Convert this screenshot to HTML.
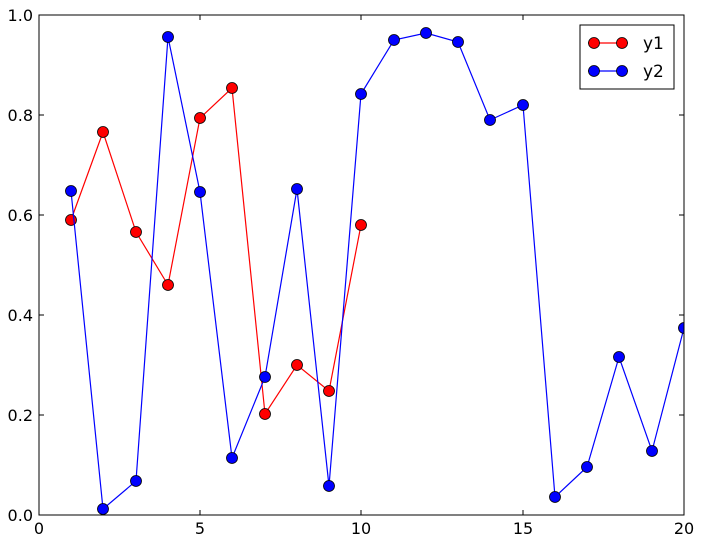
<!DOCTYPE html>
<html><head><meta charset="utf-8"><style>body{margin:0;background:#fff}</style></head>
<body>
<svg width="704" height="544" xmlns="http://www.w3.org/2000/svg" font-family="DejaVu Sans, Liberation Sans, sans-serif">
<rect width="704" height="544" fill="#fff"/>
<defs><clipPath id="c"><rect x="39" y="15" width="645" height="500"/></clipPath></defs>
<g clip-path="url(#c)">
<polyline fill="none" stroke="#f00" stroke-width="1.2" points="71,220 103,132 136,232 168,285 200,118 232,88 265,414 297,365 329,391 361,225"/>
<g fill="#f00" stroke="#000" stroke-width="0.8">
<circle cx="71" cy="220" r="5.5"/><circle cx="103" cy="132" r="5.5"/><circle cx="136" cy="232" r="5.5"/><circle cx="168" cy="285" r="5.5"/><circle cx="200" cy="118" r="5.5"/><circle cx="232" cy="88" r="5.5"/><circle cx="265" cy="414" r="5.5"/><circle cx="297" cy="365" r="5.5"/><circle cx="329" cy="391" r="5.5"/><circle cx="361" cy="225" r="5.5"/>
</g>
<polyline fill="none" stroke="#00f" stroke-width="1.2" points="71,191 103,509 136,481 168,37 200,192 232,458 265,377 297,189 329,486 361,94 394,40 426,33 458,42 490,120 523,105 555,497 587,467 619,357 652,451 684,328"/>
<g fill="#00f" stroke="#000" stroke-width="0.8">
<circle cx="71" cy="191" r="5.5"/><circle cx="103" cy="509" r="5.5"/><circle cx="136" cy="481" r="5.5"/><circle cx="168" cy="37" r="5.5"/><circle cx="200" cy="192" r="5.5"/><circle cx="232" cy="458" r="5.5"/><circle cx="265" cy="377" r="5.5"/><circle cx="297" cy="189" r="5.5"/><circle cx="329" cy="486" r="5.5"/><circle cx="361" cy="94" r="5.5"/><circle cx="394" cy="40" r="5.5"/><circle cx="426" cy="33" r="5.5"/><circle cx="458" cy="42" r="5.5"/><circle cx="490" cy="120" r="5.5"/><circle cx="523" cy="105" r="5.5"/><circle cx="555" cy="497" r="5.5"/><circle cx="587" cy="467" r="5.5"/><circle cx="619" cy="357" r="5.5"/><circle cx="652" cy="451" r="5.5"/><circle cx="684" cy="328" r="5.5"/>
</g>
</g>
<rect x="39" y="15" width="645" height="500" fill="none" stroke="#000" stroke-width="1"/>
<g stroke="#000" stroke-width="1">
<line x1="200" y1="515" x2="200" y2="510"/><line x1="361" y1="515" x2="361" y2="510"/><line x1="523" y1="515" x2="523" y2="510"/>
<line x1="200" y1="15" x2="200" y2="20"/><line x1="361" y1="15" x2="361" y2="20"/><line x1="523" y1="15" x2="523" y2="20"/>
<line x1="39" y1="415" x2="44" y2="415"/><line x1="39" y1="315" x2="44" y2="315"/><line x1="39" y1="215" x2="44" y2="215"/><line x1="39" y1="115" x2="44" y2="115"/>
<line x1="684" y1="415" x2="679" y2="415"/><line x1="684" y1="315" x2="679" y2="315"/><line x1="684" y1="215" x2="679" y2="215"/><line x1="684" y1="115" x2="679" y2="115"/>
</g>
<g font-size="16" text-anchor="middle" fill="#000">
<text x="39" y="534">0</text><text x="200" y="534">5</text><text x="361" y="534">10</text><text x="523" y="534">15</text><text x="684" y="534">20</text>
</g>
<g font-size="16" text-anchor="end" fill="#000">
<text x="33" y="521">0.0</text><text x="33" y="421">0.2</text><text x="33" y="321">0.4</text><text x="33" y="221">0.6</text><text x="33" y="121">0.8</text><text x="33" y="21">1.0</text>
</g>
<rect x="580" y="25" width="94" height="64" fill="#fff" stroke="#000" stroke-width="1"/>
<line x1="588" y1="43" x2="628" y2="43" stroke="#f00" stroke-width="1.2"/>
<circle cx="594" cy="43" r="5.5" fill="#f00" stroke="#000" stroke-width="0.8"/><circle cx="622" cy="43" r="5.5" fill="#f00" stroke="#000" stroke-width="0.8"/>
<line x1="588" y1="71" x2="628" y2="71" stroke="#00f" stroke-width="1.2"/>
<circle cx="594" cy="71" r="5.5" fill="#00f" stroke="#000" stroke-width="0.8"/><circle cx="622" cy="71" r="5.5" fill="#00f" stroke="#000" stroke-width="0.8"/>
<text x="643" y="49" font-size="17">y1</text>
<text x="643" y="77" font-size="17">y2</text>
</svg>
</body></html>
